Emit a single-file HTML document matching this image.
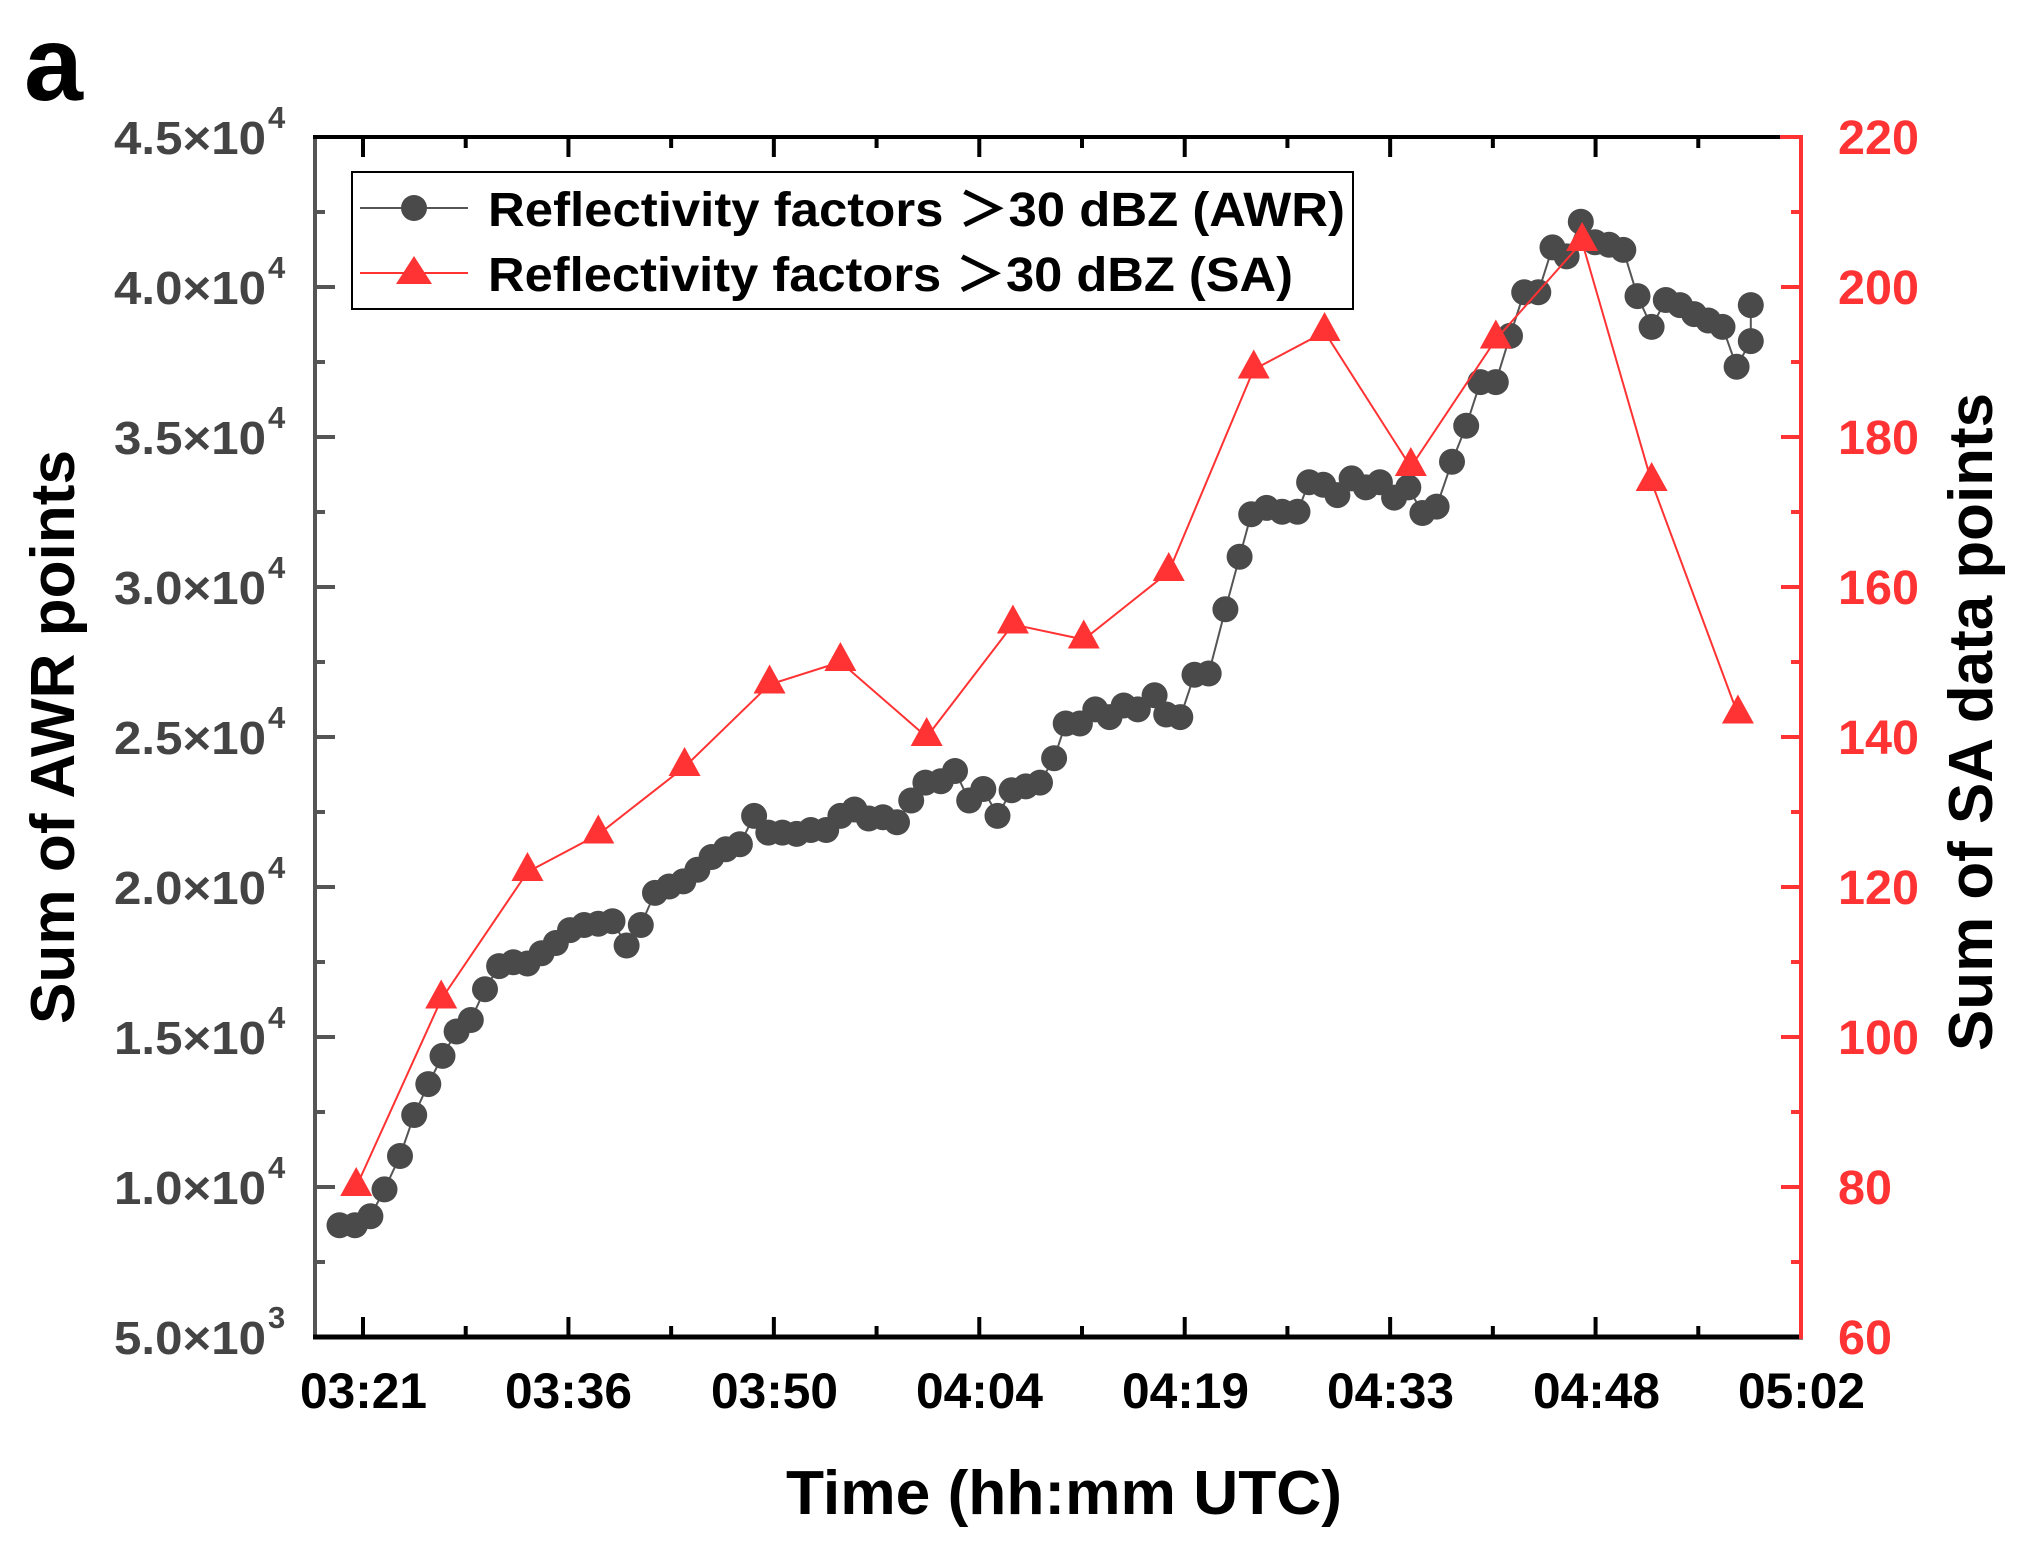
<!DOCTYPE html>
<html><head><meta charset="utf-8"><style>
html,body{margin:0;padding:0;background:#fff;}
svg{display:block;}
text{font-family:"Liberation Sans","Noto Sans CJK SC",Arial,sans-serif;font-weight:bold;}
</style></head><body>
<svg id="s" width="2019" height="1550" viewBox="0 0 2019 1550" xmlns="http://www.w3.org/2000/svg">
<text x="24" y="100" font-size="106" fill="#000">a</text>
<g id="ticks"></g>
<line x1="315" y1="137" x2="315" y2="1337" stroke="#555" stroke-width="4"/>
<line x1="313" y1="1337" x2="1803" y2="1337" stroke="#000" stroke-width="5"/>
<line x1="313" y1="137" x2="1780" y2="137" stroke="#000" stroke-width="4"/>
<line x1="1780" y1="137" x2="1803" y2="137" stroke="#ff3333" stroke-width="4"/>
<line x1="1801" y1="135" x2="1801" y2="1339" stroke="#ff3333" stroke-width="4"/>
<g id="series"></g>
<g font-size="46" fill="#444" lengthAdjust="spacingAndGlyphs">
<text x="114" y="154" textLength="152" lengthAdjust="spacingAndGlyphs">4.5×10</text><text x="268" y="128" font-size="31">4</text>
<text x="114" y="304" textLength="152" lengthAdjust="spacingAndGlyphs">4.0×10</text><text x="268" y="278" font-size="31">4</text>
<text x="114" y="454" textLength="152" lengthAdjust="spacingAndGlyphs">3.5×10</text><text x="268" y="428" font-size="31">4</text>
<text x="114" y="604" textLength="152" lengthAdjust="spacingAndGlyphs">3.0×10</text><text x="268" y="578" font-size="31">4</text>
<text x="114" y="754" textLength="152" lengthAdjust="spacingAndGlyphs">2.5×10</text><text x="268" y="728" font-size="31">4</text>
<text x="114" y="904" textLength="152" lengthAdjust="spacingAndGlyphs">2.0×10</text><text x="268" y="878" font-size="31">4</text>
<text x="114" y="1054" textLength="152" lengthAdjust="spacingAndGlyphs">1.5×10</text><text x="268" y="1028" font-size="31">4</text>
<text x="114" y="1204" textLength="152" lengthAdjust="spacingAndGlyphs">1.0×10</text><text x="268" y="1178" font-size="31">4</text>
<text x="114" y="1354" textLength="152" lengthAdjust="spacingAndGlyphs">5.0×10</text><text x="268" y="1328" font-size="31">3</text>
</g>
<g font-size="48" fill="#ff3333">
<text x="1838" y="154" textLength="81" lengthAdjust="spacingAndGlyphs">220</text>
<text x="1838" y="304" textLength="81" lengthAdjust="spacingAndGlyphs">200</text>
<text x="1838" y="454" textLength="81" lengthAdjust="spacingAndGlyphs">180</text>
<text x="1838" y="604" textLength="81" lengthAdjust="spacingAndGlyphs">160</text>
<text x="1838" y="754" textLength="81" lengthAdjust="spacingAndGlyphs">140</text>
<text x="1838" y="904" textLength="81" lengthAdjust="spacingAndGlyphs">120</text>
<text x="1838" y="1054" textLength="81" lengthAdjust="spacingAndGlyphs">100</text>
<text x="1838" y="1204" textLength="54" lengthAdjust="spacingAndGlyphs">80</text>
<text x="1838" y="1354" textLength="54" lengthAdjust="spacingAndGlyphs">60</text>
</g>
<g font-size="50" fill="#000">
<text x="300" y="1408" textLength="127" lengthAdjust="spacingAndGlyphs">03:21</text>
<text x="505" y="1408" textLength="127" lengthAdjust="spacingAndGlyphs">03:36</text>
<text x="711" y="1408" textLength="127" lengthAdjust="spacingAndGlyphs">03:50</text>
<text x="916" y="1408" textLength="127" lengthAdjust="spacingAndGlyphs">04:04</text>
<text x="1122" y="1408" textLength="127" lengthAdjust="spacingAndGlyphs">04:19</text>
<text x="1327" y="1408" textLength="127" lengthAdjust="spacingAndGlyphs">04:33</text>
<text x="1533" y="1408" textLength="127" lengthAdjust="spacingAndGlyphs">04:48</text>
<text x="1738" y="1408" textLength="127" lengthAdjust="spacingAndGlyphs">05:02</text>
</g>
<text x="786" y="1514" font-size="62" fill="#000" textLength="556" lengthAdjust="spacingAndGlyphs">Time (hh:mm UTC)</text>
<text transform="translate(74,1024) rotate(-90)" font-size="62" fill="#000" textLength="574" lengthAdjust="spacingAndGlyphs">Sum of AWR points</text>
<text transform="translate(1992,1051) rotate(-90)" font-size="62" fill="#000" textLength="658" lengthAdjust="spacingAndGlyphs">Sum of SA data points</text>
<rect x="352" y="172" width="1001" height="137" fill="#fff" stroke="#000" stroke-width="2"/>
<line x1="360" y1="208" x2="468" y2="208" stroke="#555" stroke-width="2"/>
<circle cx="414" cy="208" r="13" fill="#4a4a4a"/>
<line x1="360" y1="273" x2="468" y2="273" stroke="#ff3333" stroke-width="2"/>
<polygon points="414,256 432,284 396,284" fill="#ff3333"/>
<text x="488" y="226" font-size="48" fill="#000" textLength="857" lengthAdjust="spacingAndGlyphs">Reflectivity factors ＞30 dBZ (AWR)</text>
<text x="488" y="291" font-size="48" fill="#000" textLength="805" lengthAdjust="spacingAndGlyphs">Reflectivity factors ＞30 dBZ (SA)</text>
</svg>
<script>
var NS="http://www.w3.org/2000/svg";
function el(t,a,p){var e=document.createElementNS(NS,t);for(var k in a)e.setAttribute(k,a[k]);p.appendChild(e);return e;}
var tk=document.getElementById('ticks');
for(var i=0;i<=14;i++){var x=363+i*(1801-363)/14;var L=(i%2==0)?20:11;
 el('line',{x1:x,y1:1337,x2:x,y2:1337-L,stroke:'#000','stroke-width':4},tk);
 el('line',{x1:x,y1:137,x2:x,y2:137+L,stroke:'#000','stroke-width':4},tk);}
for(var j=0;j<=16;j++){var y=137+j*75;var L=(j%2==0)?20:10;
 el('line',{x1:315,y1:y,x2:315+L,y2:y,stroke:'#555','stroke-width':4},tk);
 el('line',{x1:1801,y1:y,x2:1801-L,y2:y,stroke:'#ff3333','stroke-width':4},tk);}
var g=document.getElementById('series');
function X(x){return 315+(x-243)*1.2877;}
function Y(y){return 137+(y-105)*1.2834;}
var a=[262,953,274,953,286,946,297,925,309,899,320,867,331,843,342,821,353,802,364,793,375,769,386,751,397,748,408,749,419,741,430,733,441,723,452,719,463,718,474,716,485,735,496,719,507,694,518,689,529,685,540,676,551,666,562,660,573,656,584,634,595,647,606,647,617,648,628,645,640,645,651,634,662,629,673,636,684,635,695,639,706,622,717,608,729,607,740,599,751,622,762,613,773,634,784,614,795,611,806,608,817,589,826,562,837,562,849,551,860,557,871,548,882,551,895,540,904,555,915,557,926,524,937,523,950,473,961,432,970,399,982,394,994,397,1006,397,1015,374,1026,376,1037,384,1048,371,1059,378,1070,374,1081,386,1092,378,1103,398,1114,393,1126,358,1137,330,1148,296,1160,296,1171,260,1182,226,1193,226,1204,191,1215,198,1226,171,1237,187,1248,189,1259,193,1270,229,1281,253,1292,232,1303,236,1314,243,1325,248,1336,253,1347,284,1358,264,1358,236];
var pts=[];for(var i=0;i<a.length;i+=2)pts.push(X(a[i]).toFixed(1)+','+Y(a[i+1]).toFixed(1));
el('polyline',{points:pts.join(' '),fill:'none',stroke:'#555','stroke-width':2},g);
for(var i=0;i<pts.length;i++){var p=pts[i].split(',');el('circle',{cx:p[0],cy:p[1],r:13,fill:'#4a4a4a'},g);}
var sx=[275,341,408,463,530,596,651,718,785,840,906,972,1027,1094,1160,1227,1281,1348];
var sv=[80,105,122,127,136,147,150,140,155,153,162,189,194,176,193,206,174,143];
var sp=[];for(var i=0;i<sx.length;i++)sp.push([X(sx[i]),137+(220-sv[i])*7.5]);
el('polyline',{points:sp.map(function(q){return q[0].toFixed(1)+','+q[1].toFixed(1)}).join(' '),fill:'none',stroke:'#ff3333','stroke-width':2},g);
sp.forEach(function(q){var x=q[0],y=q[1];el('polygon',{points:x+','+(y-20)+' '+(x+16)+','+(y+9)+' '+(x-16)+','+(y+9),fill:'#ff3333'},g);});
</script>
</body></html>
